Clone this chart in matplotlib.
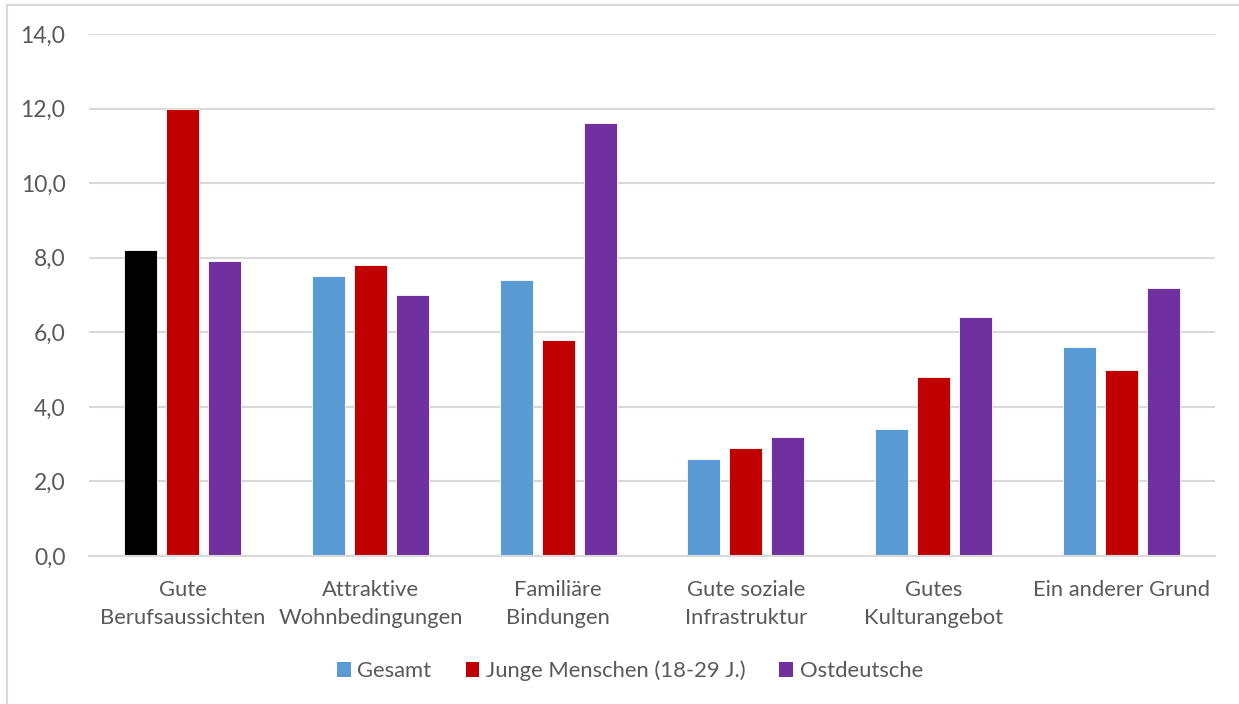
import matplotlib
matplotlib.use("Agg")
import matplotlib.pyplot as plt
from matplotlib.lines import Line2D
from matplotlib.patches import Patch
import numpy as np

categories = ["Gute\nBerufsaussichten", "Attraktive\nWohnbedingungen", "Familiäre\nBindungen",
              "Gute soziale\nInfrastruktur", "Gutes\nKulturangebot", "Ein anderer Grund"]
series_names = ["Gesamt", "Junge Menschen (18-29 J.)", "Ostdeutsche"]
gesamt = [8.2, 7.5, 7.4, 2.6, 3.4, 5.6]
junge = [12.0, 7.8, 5.8, 2.9, 4.8, 5.0]
ost = [7.9, 7.0, 11.6, 3.2, 6.4, 7.2]
yticks = [0, 2, 4, 6, 8, 10, 12, 14]

colors = ["#5B9BD5", "#C00000", "#7030A0"]
text_color = "#595959"
grid_color = "#D9D9D9"

plt.rcParams["font.family"] = ["Lato", "DejaVu Sans"]

W, H = 1239, 704
fig = plt.figure(figsize=(W / 100, H / 100), dpi=100)
ax = fig.add_axes([89 / W, 1 - 556 / H, (1215 - 89) / W, (556 - 34) / H])

x = np.arange(len(categories))
bw = 0.176
step = 0.224
for i, (vals, col) in enumerate(zip([gesamt, junge, ost], colors)):
    bar_colors = [col] * len(vals)
    if i == 0:
        bar_colors[0] = "#000000"  # highlighted first bar
    ax.bar(x + (i - 1) * step, vals, width=bw, color=bar_colors,
           edgecolor="white", linewidth=0.6, zorder=3)

ax.set_xlim(-0.5, len(categories) - 0.5)
ax.set_ylim(0, 14)
ax.set_yticks(yticks)
ax.set_yticklabels([f"{v:.1f}".replace(".", ",") for v in yticks], fontsize=16.5)
ax.set_xticks(x)
ax.set_xticklabels(categories, linespacing=1.5, fontsize=15.8)
ax.tick_params(axis="both", length=0, colors=text_color)
ax.tick_params(axis="y", pad=17)
ax.tick_params(axis="x", pad=17)
ax.grid(axis="y", color=grid_color, linewidth=1.5, zorder=0)
for s in ["top", "right", "left"]:
    ax.spines[s].set_visible(False)
ax.spines["bottom"].set_color(grid_color)
ax.spines["bottom"].set_linewidth(1.5)
ax.spines["bottom"].set_zorder(4)

handles = [Patch(facecolor=c, edgecolor="none") for c in colors]
fig.legend(handles, series_names, loc="center", bbox_to_anchor=(630 / W, 1 - 671 / H),
           ncol=3, frameon=False, fontsize=15.8, labelcolor=text_color,
           handlelength=0.62, handleheight=0.62, handletextpad=0.3, columnspacing=1.55)

# chart frame
ytop = 1 - 4.5 / H
xl = 7 / W
fig.add_artist(Line2D([xl, xl], [0, ytop], transform=fig.transFigure, color=grid_color, lw=1.5))
fig.add_artist(Line2D([xl, 1], [ytop, ytop], transform=fig.transFigure, color=grid_color, lw=1.5))

fig.savefig("out.png", dpi=100, facecolor="white")
